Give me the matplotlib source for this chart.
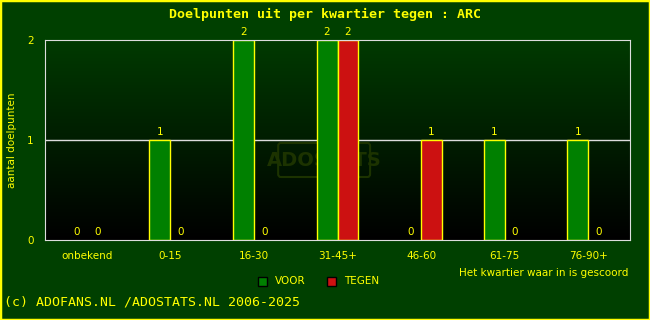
import numpy as np
import matplotlib
matplotlib.use("Agg")
from matplotlib import pyplot as plt
from matplotlib.patches import Rectangle, FancyBboxPatch
from matplotlib.colors import LinearSegmentedColormap

kwartieren = ["onbekend", "0-15", "16-30", "31-45+", "46-60", "61-75", "76-90+"]
voor = [0, 1, 2, 2, 0, 1, 1]
tegen = [0, 0, 0, 2, 1, 0, 0]

geel = "#ffff00"
bg = "#004000"

fig = plt.figure(figsize=(6.5, 3.2), dpi=100, facecolor=bg)
# gele rand rondom
fig.patches.append(Rectangle((0, 0), 1, 1, transform=fig.transFigure, fill=False,
                             edgecolor=geel, linewidth=2.5))

ax = fig.add_axes([45 / 650, 80 / 320, 585 / 650, 200 / 320])
ax.set_facecolor("black")

# achtergrond met verloop van donkergroen naar zwart
grad = np.linspace(1, 0, 256).reshape(-1, 1)
cmap = LinearSegmentedColormap.from_list("g", ["#000000", "#003a00"])
ax.imshow(grad, aspect="auto", cmap=cmap, extent=[-0.5, 6.5, 0, 2], zorder=0)

x = np.arange(len(kwartieren))
w = 0.25
# geen rand bij lege balken
lw_voor = [1 if v > 0 else 0 for v in voor]
lw_tegen = [1 if t > 0 else 0 for t in tegen]
ax.bar(x - w / 2, voor, w, color="#008000", edgecolor=geel, linewidth=lw_voor, zorder=2)
ax.bar(x + w / 2, tegen, w, color="#cc1111", edgecolor=geel, linewidth=lw_tegen, zorder=2)

for xi, v in zip(x, voor):
    ax.text(xi - w / 2, v + 0.03, str(v), color=geel, ha="center", va="bottom", fontsize=7.5)
for xi, t in zip(x, tegen):
    ax.text(xi + w / 2, t + 0.03, str(t), color=geel, ha="center", va="bottom", fontsize=7.5)

ax.axhline(1, color="#dddddd", linewidth=1, zorder=1)
ax.set_xlim(-0.5, 6.5)
ax.set_ylim(0, 2)
ax.set_yticks([0, 1, 2])
ax.set_xticks(x)
ax.set_xticklabels(kwartieren)
ax.tick_params(colors=geel, labelsize=7.5, length=0, pad=8)
for s in ax.spines.values():
    s.set_color("#dddddd")
    s.set_zorder(3)
ax.set_ylabel("aantal doelpunten", color=geel, fontsize=7.5, va="center")
ax.yaxis.set_label_coords(-33 / 585, 0.5)

# watermerk
ax.add_patch(FancyBboxPatch((2.29, 0.63), 1.1, 0.34, boxstyle="round,pad=0.0,rounding_size=0.03",
                            facecolor="none", edgecolor="#1c3300", linewidth=1.5, zorder=1))
ax.text(2.84, 0.8, "ADOSTATS", color="#1c3300", fontsize=14, fontweight="bold",
        ha="center", va="center", zorder=1)

fig.text(0.5, 1 - 14 / 320, "Doelpunten uit per kwartier tegen : ARC", color=geel,
         ha="center", va="center", family="DejaVu Sans Mono", fontweight="bold", fontsize=9.5)
fig.text(628 / 650, 1 - 273 / 320, "Het kwartier waar in is gescoord", color=geel,
         ha="right", va="center", fontsize=7.5)

# legenda
fig.patches.append(Rectangle((258 / 650, 1 - 286 / 320), 9 / 650, 9 / 320, transform=fig.transFigure,
                             facecolor="#008000", edgecolor="black", linewidth=1))
fig.text(275 / 650, 1 - 281 / 320, "VOOR", color=geel, va="center", fontsize=7.5)
fig.patches.append(Rectangle((327 / 650, 1 - 286 / 320), 9 / 650, 9 / 320, transform=fig.transFigure,
                             facecolor="#cc1111", edgecolor="black", linewidth=1))
fig.text(344 / 650, 1 - 281 / 320, "TEGEN", color=geel, va="center", fontsize=7.5)

fig.text(4 / 650, 1 - 302 / 320, "(c) ADOFANS.NL /ADOSTATS.NL 2006-2025", color=geel,
         ha="left", va="center", family="DejaVu Sans Mono", fontsize=9.5)

fig.savefig("out.png", dpi=100, facecolor=bg)
